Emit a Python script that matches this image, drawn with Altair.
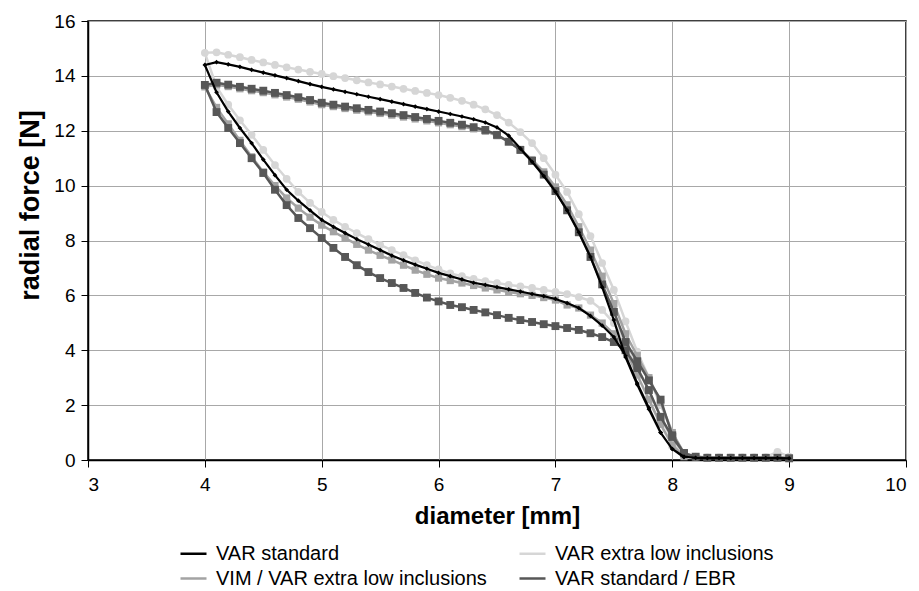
import altair as alt
import pandas as pd

SERIES = ["VAR standard", "VAR extra low inclusions",
          "VIM / VAR extra low inclusions", "VAR standard / EBR"]
COLORS = ["#000000", "#d6d6d6", "#a3a3a3", "#575757"]
SHAPES = ["diamond", "circle", "square", "square"]
SIZES = [22, 60, 52, 62]

X_TICKS = [3, 4, 5, 6, 7, 8, 9, 10]
Y_TICKS = [0, 2, 4, 6, 8, 10, 12, 14, 16]

# diameters of the measuring points (upper/crimping branch 4.0 .. 9.0)
DIAM_UP = [4.0, 4.1, 4.2, 4.3, 4.4, 4.5, 4.6, 4.7, 4.8, 4.9, 5.0,
           5.1, 5.2, 5.3, 5.4, 5.5, 5.6, 5.7, 5.8, 5.9, 6.0,
           6.1, 6.2, 6.3, 6.4, 6.5, 6.6, 6.7, 6.8, 6.9, 7.0,
           7.1, 7.2, 7.3, 7.4, 7.5, 7.6, 7.7, 7.8, 7.9, 8.0,
           8.1, 8.2, 8.3, 8.4, 8.5, 8.6, 8.7, 8.8, 8.9, 9.0]
# lower/release branch 4.0 .. 8.1
DIAM_LO = [4.0, 4.1, 4.2, 4.3, 4.4, 4.5, 4.6, 4.7, 4.8, 4.9, 5.0,
           5.1, 5.2, 5.3, 5.4, 5.5, 5.6, 5.7, 5.8, 5.9, 6.0,
           6.1, 6.2, 6.3, 6.4, 6.5, 6.6, 6.7, 6.8, 6.9, 7.0,
           7.1, 7.2, 7.3, 7.4, 7.5, 7.6, 7.7, 7.8, 7.9, 8.0,
           8.1]

BLACK_UP = [14.40, 14.50, 14.42, 14.33, 14.22, 14.12, 14.02, 13.92, 13.81, 13.70, 13.60,
            13.51, 13.42, 13.33, 13.24, 13.15, 13.06, 12.97, 12.88, 12.79, 12.70,
            12.61, 12.52, 12.42, 12.30, 12.12, 11.82, 11.35, 10.87, 10.35, 9.78,
            9.10, 8.30, 7.40, 6.30, 5.10, 3.75, 2.75, 1.85, 1.00, 0.40,
            0.12, 0.08, 0.07, 0.07, 0.07, 0.07, 0.07, 0.07, 0.07, 0.06]
LIGHT_UP = [14.84, 14.86, 14.77, 14.68, 14.58, 14.49, 14.40, 14.31, 14.23, 14.15, 14.07,
            13.99, 13.92, 13.84, 13.76, 13.69, 13.61, 13.53, 13.45, 13.38, 13.30,
            13.20, 13.09, 12.95, 12.78, 12.57, 12.30, 11.95, 11.55, 11.00, 10.40,
            9.77, 8.96, 8.16, 7.18, 6.20, 5.05, 3.95, 3.00, 2.00, 1.00,
            0.25, 0.12, 0.10, 0.10, 0.10, 0.10, 0.10, 0.10, 0.30, 0.12]
MEDIUM_UP = [13.60, 13.68, 13.61, 13.53, 13.46, 13.39, 13.31, 13.23, 13.15, 13.05, 12.95,
             12.88, 12.81, 12.75, 12.69, 12.63, 12.57, 12.50, 12.43, 12.36, 12.29,
             12.22, 12.15, 12.07, 11.98, 11.82, 11.60, 11.32, 10.95, 10.50, 9.95,
             9.30, 8.50, 7.65, 6.70, 5.70, 4.60, 3.80, 3.00, 2.10, 1.00,
             0.25, 0.12, 0.09, 0.09, 0.09, 0.09, 0.09, 0.09, 0.09, 0.08]
DARK_UP = [13.67, 13.75, 13.68, 13.60, 13.53, 13.46, 13.38, 13.30, 13.22, 13.12, 13.02,
           12.95, 12.88, 12.82, 12.76, 12.70, 12.64, 12.57, 12.50, 12.43, 12.36,
           12.29, 12.22, 12.13, 12.03, 11.85, 11.60, 11.30, 10.90, 10.40, 9.80,
           9.10, 8.30, 7.40, 6.40, 5.40, 4.30, 3.60, 2.90, 2.20, 0.90,
           0.25, 0.12, 0.08, 0.08, 0.08, 0.08, 0.08, 0.08, 0.08, 0.06]

BLACK_LO = [14.40, 13.40, 12.70, 12.10, 11.55, 10.95, 10.38, 9.85, 9.45, 9.10, 8.75,
            8.50, 8.27, 8.05, 7.85, 7.65, 7.45, 7.28, 7.12, 6.97, 6.82,
            6.70, 6.58, 6.46, 6.38, 6.30, 6.22, 6.14, 6.05, 5.97, 5.87,
            5.72, 5.54, 5.25, 4.90, 4.48, 3.80, 2.80, 1.90, 1.00, 0.40,
            0.10]
LIGHT_LO = [14.84, 13.60, 12.95, 12.38, 11.85, 11.30, 10.75, 10.25, 9.77, 9.37, 9.04,
            8.75, 8.50, 8.27, 8.05, 7.84, 7.65, 7.47, 7.28, 7.10, 6.95,
            6.80, 6.70, 6.60, 6.52, 6.45, 6.38, 6.33, 6.27, 6.20, 6.13,
            6.05, 5.94, 5.80, 5.47, 4.99, 4.30, 3.40, 2.50, 1.60, 0.70,
            0.15]
MEDIUM_LO = [13.60, 12.85, 12.25, 11.65, 11.05, 10.50, 10.00, 9.55, 9.18, 8.85, 8.56,
             8.32, 8.09, 7.86, 7.65, 7.46, 7.29, 7.10, 6.92, 6.77, 6.63,
             6.54, 6.45, 6.36, 6.27, 6.20, 6.12, 6.06, 6.00, 5.92, 5.83,
             5.65, 5.54, 5.28, 4.99, 4.60, 4.00, 3.10, 2.20, 1.30, 0.55,
             0.12]
DARK_LO = [13.67, 12.68, 12.10, 11.55, 11.00, 10.46, 9.85, 9.29, 8.82, 8.45, 8.09,
           7.73, 7.40, 7.10, 6.85, 6.63, 6.45, 6.27, 6.09, 5.92, 5.78,
           5.65, 5.57, 5.47, 5.38, 5.28, 5.18, 5.10, 5.03, 4.95, 4.88,
           4.81, 4.74, 4.62, 4.48, 4.30, 4.00, 3.35, 2.55, 1.57, 0.84,
           0.25]

UPPER = [BLACK_UP, LIGHT_UP, MEDIUM_UP, DARK_UP]
LOWER = [BLACK_LO, LIGHT_LO, MEDIUM_LO, DARK_LO]

rows = []
for name, up, lo in zip(SERIES, UPPER, LOWER):
    k = 0
    for d, f in zip(reversed(DIAM_UP), reversed(up)):
        rows.append({"series": name, "diameter": d, "force": f, "order": k})
        k += 1
    for d, f in list(zip(DIAM_LO, lo))[1:]:
        rows.append({"series": name, "diameter": d, "force": f, "order": k})
        k += 1
df = pd.DataFrame(rows)

FONT = "Liberation Sans"

x_enc = alt.X("diameter:Q",
              scale=alt.Scale(domain=[3, 10], nice=False, zero=False),
              axis=alt.Axis(values=X_TICKS, title="diameter [mm]", format="d",
                            titleFontSize=24, titleBaseline="middle",
                            titleY=56, labelPadding=8))
y_enc = alt.Y("force:Q",
              scale=alt.Scale(domain=[0, 16], nice=False),
              axis=alt.Axis(values=Y_TICKS, title="radial force [N]", format="d",
                            titleFontSize=27, titleBaseline="middle",
                            titleX=-58, titleY=184, labelPadding=6))

legend = alt.Legend(
    title=None, orient="none", legendX=91, legendY=518, columns=2,
    direction="horizontal",
    symbolType="stroke", symbolSize=676, symbolStrokeWidth=2.5,
    labelFont=FONT, labelFontSize=20, labelColor="#000000",
    labelOffset=8, columnPadding=27, rowPadding=0, labelLimit=400,
)

layers = []
for idx in [1, 2, 3, 0]:
    name = SERIES[idx]
    base = alt.Chart(df).transform_filter(alt.datum.series == name)
    col = alt.Color("series:N", scale=alt.Scale(domain=SERIES, range=COLORS),
                    legend=legend if idx == 1 else None)
    line = base.mark_line(strokeWidth=2.5 if idx else 2.2).encode(
        x=x_enc, y=y_enc, color=col, order="order:Q")
    pts = base.mark_point(filled=True, shape=SHAPES[idx], size=SIZES[idx],
                          opacity=1).encode(
        x=x_enc, y=y_enc,
        color=alt.Color("series:N", scale=alt.Scale(domain=SERIES, range=COLORS),
                        legend=None))
    layers += [line, pts]

chart = alt.layer(*layers).properties(
    width=818, height=439,
    background="#ffffff",
    autosize=alt.AutoSizeParams(type="none"),
    padding={"left": 80, "top": 13, "right": 5, "bottom": 140},
).configure_view(
    stroke="#000000", strokeWidth=1.5
).configure_axis(
    labelFont=FONT, labelFontSize=19, labelColor="#000000",
    titleFont=FONT, titleFontWeight="bold", titleColor="#000000",
    domainColor="#000000", domainWidth=1.5, tickColor="#000000", tickSize=7,
    gridColor="#a8a8a8", gridWidth=1,
)

chart.save("out.html", embed_options={"renderer": "svg", "actions": False})
